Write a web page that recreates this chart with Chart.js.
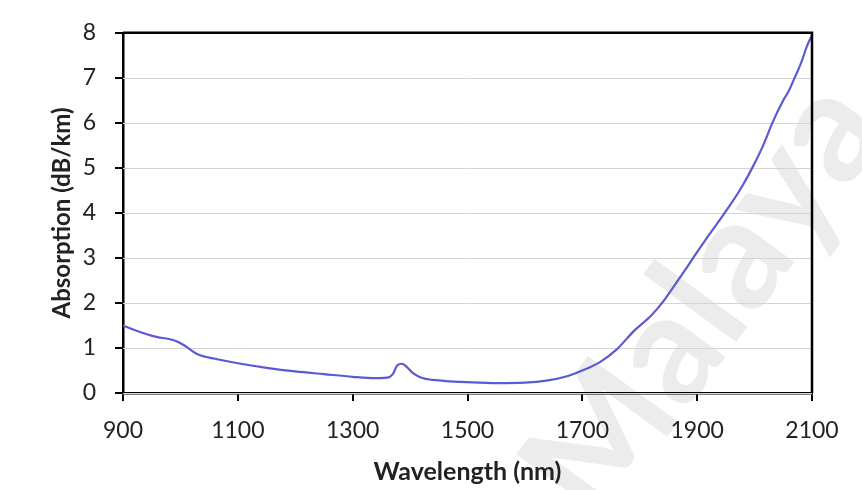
<!DOCTYPE html>
<html>
<head>
<meta charset="utf-8">
<script src="https://cdn.jsdelivr.net/npm/chart.js@4/dist/chart.umd.min.js"></script>
<style>
  html, body { margin: 0; padding: 0; background: #fff; }
  #wrap { width: 862px; height: 490px; }
</style>
</head>
<body>
<div id="wrap"><canvas id="c" width="862" height="490"></canvas></div>
<script>
// Absorption spectrum of the fibre (wavelength in nm, absorption in dB/km)
const wavelength = [900, 920, 940, 960, 980, 995, 1010, 1030, 1060, 1100, 1150, 1200, 1250, 1300, 1340, 1360, 1370, 1378, 1386, 1394, 1405, 1420, 1440, 1470, 1500, 1550, 1600, 1640, 1670, 1700, 1730, 1760, 1790, 1820, 1840, 1860, 1880, 1893, 1920, 1948, 1975, 1996, 2015, 2031, 2050, 2060, 2068, 2076, 2083, 2091, 2100];
const absorption = [1.50, 1.40, 1.31, 1.24, 1.20, 1.14, 1.03, 0.86, 0.76, 0.66, 0.56, 0.48, 0.42, 0.36, 0.33, 0.34, 0.42, 0.62, 0.65, 0.58, 0.44, 0.34, 0.29, 0.26, 0.24, 0.22, 0.23, 0.28, 0.36, 0.50, 0.68, 0.97, 1.38, 1.72, 2.02, 2.38, 2.75, 3.00, 3.50, 4.00, 4.52, 5.00, 5.50, 6.00, 6.50, 6.72, 6.95, 7.18, 7.40, 7.70, 7.95];

const xTicks = [900, 1100, 1300, 1500, 1700, 1900, 2100];
const yTicks = [0, 1, 2, 3, 4, 5, 6, 7, 8];

const FONT = 'Lato, "Open Sans", sans-serif';

// Faint diagonal watermark behind the plot
const watermark = {
  id: 'watermark',
  beforeDraw(chart) {
    const ctx = chart.ctx;
    ctx.save();
    ctx.translate(705, 300);
    ctx.rotate(-54 * Math.PI / 180);
    ctx.font = 'bold 155px ' + FONT;
    ctx.fillStyle = 'rgba(0,0,0,0.075)';
    ctx.textAlign = 'center';
    ctx.textBaseline = 'middle';
    ctx.fillText('Malaya', 0, 0);
    ctx.restore();
  }
};

// Light horizontal gridlines at each y tick
const hGrid = {
  id: 'hGrid',
  beforeDatasetsDraw(chart) {
    const { ctx, chartArea: a, scales: { y } } = chart;
    ctx.save();
    ctx.strokeStyle = '#d4d4d4';
    ctx.lineWidth = 1;
    yTicks.forEach(v => {
      const py = Math.round(y.getPixelForValue(v)) + 0.5;
      ctx.beginPath();
      ctx.moveTo(a.left, py);
      ctx.lineTo(a.right, py);
      ctx.stroke();
    });
    ctx.restore();
  }
};

// Top and right frame lines of the plot area
const frame = {
  id: 'frame',
  afterDraw(chart) {
    const { ctx, chartArea: a } = chart;
    ctx.save();
    ctx.strokeStyle = '#000';
    ctx.lineWidth = 2.5;
    ctx.beginPath();
    ctx.moveTo(a.left, a.top);
    ctx.lineTo(a.right, a.top);
    ctx.lineTo(a.right, a.bottom);
    ctx.stroke();
    ctx.restore();
  }
};

new Chart(document.getElementById('c'), {
  type: 'line',
  data: {
    datasets: [{
      data: wavelength.map((w, i) => ({ x: w, y: absorption[i] })),
      borderColor: '#5a5ad2',
      borderWidth: 2.2,
      pointRadius: 0,
      fill: false,
      cubicInterpolationMode: 'monotone'
    }]
  },
  options: {
    responsive: false,
    devicePixelRatio: 1,
    animation: false,
    layout: { padding: { left: 10, right: 50, top: 31, bottom: 0 } },
    plugins: { legend: { display: false }, tooltip: { enabled: false } },
    scales: {
      x: {
        type: 'linear',
        min: 900,
        max: 2100,
        afterBuildTicks(scale) { scale.ticks = xTicks.map(v => ({ value: v })); },
        afterFit(scale) { scale.height = 97; },
        grid: { drawOnChartArea: false, color: '#000', lineWidth: 2, tickLength: 8 },
        border: { color: '#000', width: 2.5 },
        ticks: { color: '#222', font: { family: FONT, size: 23 }, padding: 16, maxRotation: 0, callback: v => String(v) },
        title: { display: true, text: 'Wavelength (nm)', color: '#222', font: { family: FONT, size: 25, weight: 'bold' }, padding: { bottom: 3 } }
      },
      y: {
        min: 0,
        max: 8,
        afterBuildTicks(scale) { scale.ticks = yTicks.map(v => ({ value: v })); },
        afterFit(scale) { scale.width = 113; },
        grid: { drawOnChartArea: false, color: '#000', lineWidth: 2, tickLength: 8 },
        border: { color: '#000', width: 2.5 },
        ticks: { color: '#222', font: { family: FONT, size: 23 }, padding: 19, callback: v => String(v) },
        title: { display: true, text: 'Absorption (dB/km)', color: '#222', font: { family: FONT, size: 24, weight: 'bold' }, padding: { top: 38 } }
      }
    }
  },
  plugins: [watermark, hGrid, frame]
});
</script>
</body>
</html>
